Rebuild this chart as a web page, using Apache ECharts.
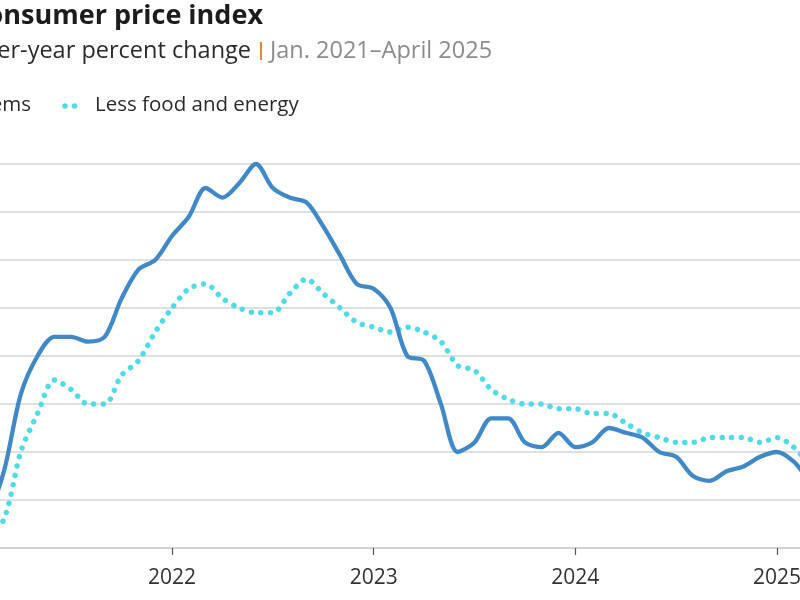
<!DOCTYPE html>
<html>
<head>
<meta charset="utf-8">
<script src="https://cdn.jsdelivr.net/npm/echarts@6/dist/echarts.min.js"></script>
<style>
  html, body { margin: 0; padding: 0; background: #ffffff; }
  #chart { width: 800px; height: 600px; }
</style>
</head>
<body>
<div id="chart"></div>
<script>
// ---- Data (year-over-year percent change, monthly, Jan 2021 – Apr 2025) ----
const months = [
  '2021-01','2021-02','2021-03','2021-04','2021-05','2021-06','2021-07','2021-08','2021-09','2021-10','2021-11','2021-12',
  '2022-01','2022-02','2022-03','2022-04','2022-05','2022-06','2022-07','2022-08','2022-09','2022-10','2022-11','2022-12',
  '2023-01','2023-02','2023-03','2023-04','2023-05','2023-06','2023-07','2023-08','2023-09','2023-10','2023-11','2023-12',
  '2024-01','2024-02','2024-03','2024-04','2024-05','2024-06','2024-07','2024-08','2024-09','2024-10','2024-11','2024-12',
  '2025-01','2025-02','2025-03','2025-04'
];
const allItems = [
  1.4, 1.7, 2.6, 4.2, 5.0, 5.4, 5.4, 5.3, 5.4, 6.2, 6.8, 7.0,
  7.5, 7.9, 8.5, 8.3, 8.6, 9.0, 8.5, 8.3, 8.2, 7.7, 7.1, 6.5,
  6.4, 6.0, 5.0, 4.9, 4.0, 3.0, 3.2, 3.7, 3.7, 3.2, 3.1, 3.4,
  3.1, 3.2, 3.5, 3.4, 3.3, 3.0, 2.9, 2.5, 2.4, 2.6, 2.7, 2.9,
  3.0, 2.8, 2.4, 2.3
];
const lessFoodEnergy = [
  1.4, 1.3, 1.6, 3.0, 3.8, 4.5, 4.3, 4.0, 4.0, 4.6, 4.9, 5.5,
  6.0, 6.4, 6.5, 6.2, 6.0, 5.9, 5.9, 6.3, 6.6, 6.3, 6.0, 5.7,
  5.6, 5.5, 5.6, 5.5, 5.3, 4.8, 4.7, 4.3, 4.1, 4.0, 4.0, 3.9,
  3.9, 3.8, 3.8, 3.6, 3.4, 3.3, 3.2, 3.2, 3.3, 3.3, 3.3, 3.2,
  3.3, 3.1, 2.8, 2.8
];
const yearTickLabels = ['2021', '2022', '2023', '2024', '2025', '2026'];
const seriesNames = ['All items', 'Less food and energy'];

const toPairs = vals => vals.map((v, i) => [i, v]);

const chart = echarts.init(document.getElementById('chart'), null, { renderer: 'canvas' });

const textColor = '#2b2b2b';
const option = {
  animation: false,
  backgroundColor: '#ffffff',
  grid: { left: -29.67, right: -178.67, top: 164, bottom: 52, containLabel: false, outerBoundsMode: 'none' },
  xAxis: {
    type: 'value',
    min: 0,
    max: 60,
    interval: 12,
    axisLine: { show: true, lineStyle: { color: '#cfcfcf', width: 1.5 } },
    axisTick: { show: true, length: 7, inside: false, lineStyle: { color: '#555555', width: 1.2 } },
    axisLabel: {
      show: true,
      margin: 20,
      fontFamily: 'Open Sans',
      fontSize: 21,
      color: '#333333',
      formatter: v => yearTickLabels[Math.round(v / 12)] || ''
    },
    splitLine: { show: false }
  },
  yAxis: {
    type: 'value',
    min: 1,
    max: 9,
    interval: 1,
    axisLine: { show: false },
    axisTick: { show: false },
    axisLabel: { show: false },
    splitLine: { show: true, lineStyle: { color: '#d6d6d6', width: 1.5 } }
  },
  series: [
    {
      name: seriesNames[0],
      type: 'line',
      data: toPairs(allItems),
      smooth: 0.3,
      showSymbol: false,
      symbol: 'none',
      lineStyle: { color: '#3f89c9', width: 4.3, cap: 'round', join: 'round' },
      z: 3
    },
    {
      name: seriesNames[1],
      type: 'line',
      data: toPairs(lessFoodEnergy),
      smooth: 0.3,
      showSymbol: false,
      symbol: 'none',
      lineStyle: { color: '#4fdbe9', width: 5.5, type: [0.01, 9.5], cap: 'round' },
      z: 2
    }
  ],
  graphic: [
    {
      type: 'text', x: 263, y: 16,
      style: {
        text: 'Consumer price index', align: 'right', verticalAlign: 'middle',
        font: 'bold 27px "Open Sans"', fill: '#1c1c1c'
      }
    },
    {
      type: 'text', x: 251, y: 51,
      style: {
        text: 'Year-over-year percent change', align: 'right', verticalAlign: 'middle',
        font: '23.5px "Open Sans"', fill: textColor
      }
    },
    {
      type: 'rect', shape: { x: 260, y: 42, width: 2, height: 18 },
      style: { fill: '#e0892f' }
    },
    {
      type: 'text', x: 270, y: 51,
      style: {
        text: 'Jan. 2021\u2013April 2025', align: 'left', verticalAlign: 'middle',
        font: '23.5px "Open Sans"', fill: '#8c8c8c'
      }
    },
    {
      type: 'line', shape: { x1: -110, y1: 106, x2: -80, y2: 106 },
      style: { stroke: '#3f89c9', lineWidth: 4 }
    },
    {
      type: 'text', x: 31, y: 105,
      style: {
        text: seriesNames[0], align: 'right', verticalAlign: 'middle',
        font: '20.5px "Open Sans"', fill: textColor
      }
    },
    { type: 'circle', shape: { cx: 65, cy: 106, r: 2.8 }, style: { fill: '#4fdbe9' } },
    { type: 'circle', shape: { cx: 74.5, cy: 106, r: 2.8 }, style: { fill: '#4fdbe9' } },
    {
      type: 'text', x: 95, y: 105,
      style: {
        text: seriesNames[1], align: 'left', verticalAlign: 'middle',
        font: '20.5px "Open Sans"', fill: textColor
      }
    }
  ]
};
chart.setOption(option);
</script>
</body>
</html>
